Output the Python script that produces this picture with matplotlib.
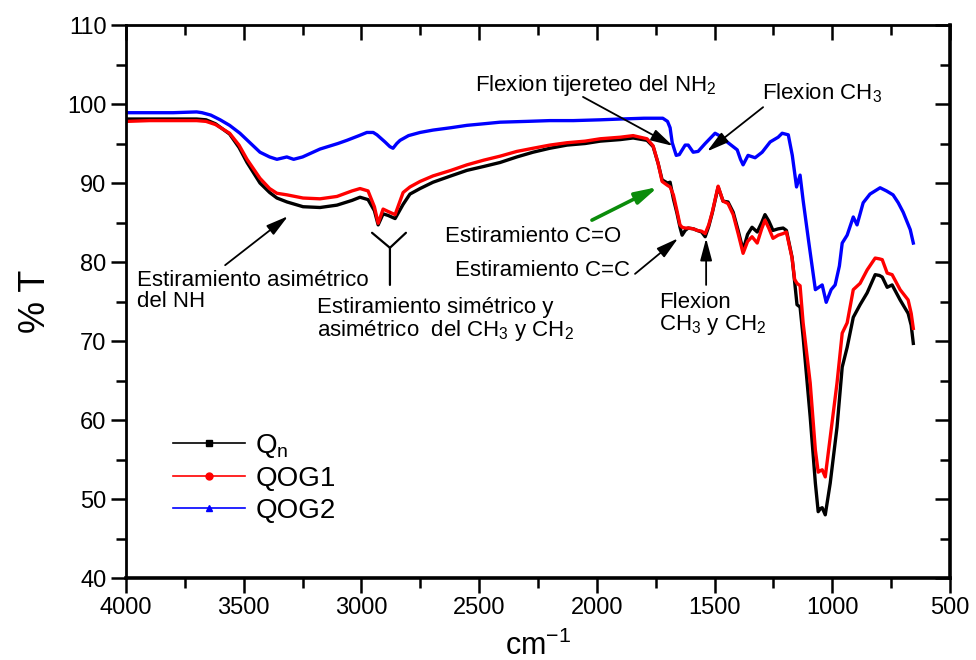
import numpy as np
import matplotlib
matplotlib.use("Agg")
import matplotlib.pyplot as plt
from matplotlib.lines import Line2D

plt.rcParams['font.family'] = ['Liberation Sans', 'DejaVu Sans']
plt.rcParams['mathtext.fontset'] = 'custom'
plt.rcParams['mathtext.rm'] = 'Liberation Sans'
plt.rcParams['mathtext.default'] = 'regular'

# wavenumbers (cm-1) and %T
wn_qn = [4000, 3900, 3800, 3700, 3660, 3620, 3560, 3520, 3486, 3431, 3390, 3359, 3316, 3248, 3176,
         3104, 3040, 3006, 2972, 2945, 2929, 2908, 2887, 2857, 2823, 2794, 2751, 2696, 2620, 2552,
         2480, 2411, 2340, 2271, 2200, 2127, 2050, 1986, 1900, 1846, 1787, 1761, 1740, 1723, 1700,
         1689, 1675, 1660, 1647, 1638, 1625, 1612, 1590, 1574, 1555, 1540, 1525, 1510, 1485, 1464,
         1443, 1421, 1400, 1379, 1360, 1341, 1319, 1300, 1286, 1270, 1252, 1230, 1209, 1195, 1171,
         1160, 1150, 1137, 1124, 1094, 1072, 1060, 1050, 1043, 1030, 1009, 980, 958, 937, 911,
         882, 852, 818, 800, 788, 767, 746, 712, 678, 665, 656]
t_qn = [98.1, 98.1, 98.1, 98.1, 98.0, 97.5, 96.2, 94.5, 92.6, 90.0, 88.8, 88.1, 87.6, 87.0, 86.9,
        87.2, 87.8, 88.2, 87.9, 86.5, 84.7, 86.1, 85.9, 85.5, 87.3, 88.6, 89.3, 90.1, 90.9, 91.6,
        92.1, 92.6, 93.3, 93.9, 94.4, 94.8, 95.0, 95.3, 95.5, 95.7, 95.4, 94.6, 92.5, 90.4, 90.0,
        90.1, 88.0, 86.2, 84.4, 83.4, 84.0, 84.3, 84.2, 84.0, 83.8, 83.2, 84.5, 86.2, 89.5, 87.7,
        87.6, 86.3, 84.0, 81.5, 83.5, 84.4, 83.8, 85.0, 86.0, 85.2, 84.0, 84.2, 84.3, 84.0, 80.6,
        77.5, 74.6, 74.3, 70.5, 60.4, 52.0, 48.4, 48.8, 48.9, 48.0, 52.0, 59.1, 66.7, 69.2, 73.0,
        74.6, 76.1, 78.4, 78.3, 78.1, 76.8, 77.1, 75.2, 73.5, 72.0, 69.7]

wn_qog1 = wn_qn
t_qog1 = [97.8, 97.9, 97.9, 97.9, 97.8, 97.4, 96.3, 94.8, 93.0, 90.6, 89.3, 88.7, 88.5, 88.1, 88.0,
          88.3, 89.0, 89.3, 89.0, 87.0, 84.9, 86.7, 86.4, 86.0, 88.8, 89.5, 90.2, 90.9, 91.6, 92.3,
          92.9, 93.4, 94.0, 94.4, 94.8, 95.1, 95.3, 95.6, 95.8, 96.0, 95.6, 94.7, 92.5, 90.2, 89.7,
          89.5, 88.5, 86.5, 84.7, 84.4, 84.3, 84.3, 84.2, 84.0, 83.9, 83.6, 84.7, 86.3, 89.6, 87.7,
          87.4, 86.0, 83.6, 81.1, 82.6, 83.2, 82.4, 84.2, 85.3, 84.3, 83.0, 83.4, 83.6, 83.8, 80.5,
          77.8, 77.3, 77.0, 72.3, 64.7, 56.2, 53.4, 53.6, 53.7, 52.8, 57.8, 64.7, 71.0, 72.3, 76.5,
          77.3, 79.0, 80.5, 80.4, 80.3, 78.6, 78.4, 76.5, 75.2, 73.5, 71.6]

wn_qog2 = [4000, 3900, 3800, 3700, 3677, 3640, 3600, 3560, 3516, 3470, 3431, 3390, 3359, 3317, 3288,
           3250, 3176, 3100, 3062, 3010, 2977, 2950, 2934, 2900, 2879, 2866, 2850, 2836, 2800, 2751,
           2696, 2620, 2552, 2480, 2411, 2300, 2200, 2100, 1986, 1900, 1800, 1720, 1700, 1689, 1680,
           1663, 1650, 1625, 1612, 1591, 1570, 1540, 1498, 1480, 1447, 1404, 1390, 1379, 1358, 1328,
           1298, 1264, 1230, 1213, 1200, 1187, 1170, 1152, 1137, 1124, 1100, 1072, 1043, 1026, 1005,
           988, 970, 958, 937, 911, 895, 869, 840, 797, 770, 742, 720, 699, 669, 656]
t_qog2 = [98.9, 98.9, 98.9, 99.0, 98.9, 98.6, 98.0, 97.3, 96.3, 95.0, 93.9, 93.3, 93.0, 93.3, 93.0,
          93.3, 94.3, 95.0, 95.4, 96.0, 96.4, 96.4, 96.1, 95.2, 94.6, 94.4, 95.0, 95.4, 96.0, 96.4,
          96.7, 97.0, 97.3, 97.5, 97.7, 97.8, 97.9, 97.9, 98.0, 98.1, 98.2, 98.2, 97.8, 97.0, 95.1,
          93.5, 93.6, 94.8, 94.8, 93.9, 94.0, 95.0, 96.3, 96.0, 95.2, 94.2, 93.0, 92.3, 93.5, 93.2,
          93.9, 95.2, 95.8, 96.3, 96.2, 96.1, 93.5, 89.5, 91.0, 87.8, 82.5, 76.5, 77.1, 74.9, 76.5,
          77.1, 79.5, 82.4, 83.4, 85.7, 84.7, 87.5, 88.6, 89.4, 89.0, 88.5, 87.5, 86.3, 84.1, 82.4]

series_names = ["$Q_n$", "QOG1", "QOG2"]
series_colors = ["#000000", "#ff0000", "#0000ff"]
series_markers = ["s", "o", "^"]

fig = plt.figure(figsize=(9.76, 6.6), dpi=100)
ax = fig.add_axes([0.1291, 0.1242, 0.8443, 0.8379])

ax.plot(wn_qn, t_qn, color=series_colors[0], lw=2.4)
ax.plot(wn_qog1, t_qog1, color=series_colors[1], lw=2.4)
ax.plot(wn_qog2, t_qog2, color=series_colors[2], lw=2.4)

ax.set_xlim(4000, 500)
ax.set_ylim(40, 110)
ax.set_xticks(np.arange(4000, 499, -500))
ax.set_xticks(np.arange(3750, 500, -500), minor=True)
ax.set_yticks(np.arange(40, 111, 10))
ax.set_yticks(np.arange(45, 110, 10), minor=True)
ax.tick_params(which='major', direction='out', length=11, width=1.8, labelsize=17, pad=3)
ax.tick_params(which='minor', direction='out', length=7, width=1.8)
for s in ax.spines.values():
    s.set_linewidth(2)
ax.spines['bottom'].set_linewidth(2.6)
ax.spines['right'].set_linewidth(2.6)

# inward ticks on top and right
top = ax.secondary_xaxis('top')
top.set_xticks(np.arange(4000, 499, -500))
top.set_xticks(np.arange(3750, 500, -500), minor=True)
top.tick_params(which='major', direction='in', length=11, width=1.8, labeltop=False)
top.tick_params(which='minor', direction='in', length=7, width=1.8)
right = ax.secondary_yaxis('right')
right.set_yticks(np.arange(40, 111, 10))
right.set_yticks(np.arange(45, 110, 10), minor=True)
right.tick_params(which='major', direction='in', length=11, width=1.8, labelright=False)
right.tick_params(which='minor', direction='in', length=7, width=1.8)

ax.set_xlabel("cm$^{-1}$", fontsize=22, labelpad=8)
ax.set_ylabel("% T", fontsize=26, labelpad=10)

# annotations
fs = 16
arw = dict(arrowstyle="-|>,head_length=0.75,head_width=0.2", color="black", lw=1.3,
           mutation_scale=18, shrinkA=0, shrinkB=0)

ax.text(3953, 76.3, "Estiramiento asimétrico\ndel NH", fontsize=fs, va='center', ha='left',
        linespacing=1.0)
ax.annotate("", xy=(3312, 85.8), xytext=(3579, 79.6), arrowprops=arw)

plain = dict(arrowstyle="-", color="black", lw=1.6, shrinkA=0, shrinkB=0)
ax.annotate("", xy=(2879, 81.8), xytext=(2955, 83.7), arrowprops=plain)
ax.annotate("", xy=(2879, 81.8), xytext=(2811, 83.7), arrowprops=plain)
ax.annotate("", xy=(2879, 77.1), xytext=(2879, 81.8), arrowprops=plain)
ax.text(3189, 72.7, "Estiramiento simétrico y\nasimétrico  del CH$_3$ y CH$_2$", fontsize=fs,
        va='center', ha='left', linespacing=1.0)

ax.text(2645, 83.2, "Estiramiento C=O", fontsize=fs, va='center', ha='left')
green = dict(arw, color="#0b8c0b", lw=2.6)
ax.annotate("", xy=(1740, 89.5), xytext=(2021, 85.3), arrowprops=green)

ax.text(2603, 78.9, "Estiramiento C=C", fontsize=fs, va='center', ha='left')
ax.annotate("", xy=(1655, 83.0), xytext=(1838, 78.5), arrowprops=arw)

ax.text(1736, 73.4, "Flexion\nCH$_3$ y CH$_2$", fontsize=fs, va='center', ha='left',
        linespacing=1.0)
ax.annotate("", xy=(1536, 83.0), xytext=(1536, 77.1), arrowprops=arw)

ax.text(2518, 102.4, "Flexion tijereteo del NH$_2$", fontsize=fs, va='center', ha='left')
ax.annotate("", xy=(1677, 94.7), xytext=(2059, 100.9), arrowprops=arw)

ax.text(1299, 101.4, "Flexion CH$_3$", fontsize=fs, va='center', ha='left')
ax.annotate("", xy=(1532, 94.0), xytext=(1294, 99.6), arrowprops=arw)

handles = [Line2D([], [], color=c, lw=1.2, marker=m, markersize=5) for c, m in
           zip(series_colors, series_markers)]
ax.legend(handles, series_names, loc='upper left', bbox_to_anchor=(0.027, 0.31),
          frameon=False, fontsize=20, handlelength=2.6, handletextpad=0.35,
          labelspacing=0.22, markerscale=1)

fig.savefig("out.png", dpi=100)
